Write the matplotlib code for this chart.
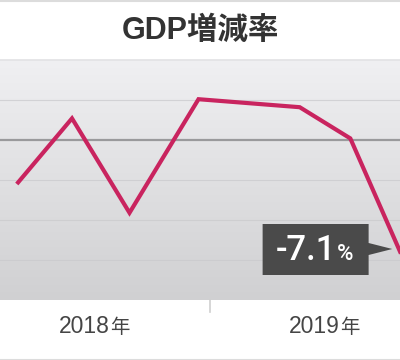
import matplotlib
matplotlib.use('Agg')
import matplotlib.pyplot as plt
import numpy as np
from matplotlib import transforms
from matplotlib.patches import Polygon
from matplotlib.lines import Line2D
from matplotlib.colors import LinearSegmentedColormap

# ---- data ----
title = "GDP増減率"
periods = [2018.16, 2018.40, 2018.65, 2018.95, 2019.39, 2019.61, 2019.83]
growth = [-2.75, 1.35, -4.55, 2.55, 2.05, 0.1, -7.1]
year_ticks = [2018.5, 2019.5]
year_labels = ["2018", "2019"]
year_suffix = "年"
year_boundary = [2019.0]
grid_levels = [2.5, -2.5, -5.0, -7.5]
zero_level = 0.0
last_value_text = "-7.1"
last_unit_text = "%"

FONT = ['Liberation Sans', 'Noto Sans CJK JP', 'DejaVu Sans']
plt.rcParams['font.family'] = FONT

W, H = 400, 360
fig = plt.figure(figsize=(W / 100, H / 100), dpi=100)
fig.patch.set_facecolor('white')

ax = fig.add_axes([0, 60 / H, 1, 240 / H])
ax.axis('off')

# gradient background
cmap = LinearSegmentedColormap.from_list('bg', ['#d0d0d2', '#f0f0f2'])
grad = np.linspace(0, 1, 256).reshape(-1, 1)
ax.imshow(grad, extent=[0, 1, 0, 1], transform=ax.transAxes, aspect='auto',
          cmap=cmap, origin='lower', zorder=0)

ax.set_xlim(2018.087, 2019.826)
ax.set_ylim(-10, 5)

for g in grid_levels:
    ax.axhline(g, color='#c9c9cc', lw=0.8, alpha=0.7, zorder=1)
ax.axhline(zero_level, color='#9a9a9c', lw=1.6, zorder=2)

ax.plot(periods, growth, color='#c9245f', lw=3.0, solid_joinstyle='miter',
        solid_capstyle='butt', zorder=3, clip_on=True)

# frame lines in figure
def hline(ypx, color, lw=1.2):
    fig.add_artist(Line2D([0, 1], [1 - ypx / H, 1 - ypx / H], transform=fig.transFigure,
                          color=color, lw=lw))
hline(0.5, '#dcdcdc', 1.5)
hline(59.5, '#e2e2e4', 1.2)
hline(359.5, '#dcdcdc', 1.5)

# year boundary tick
for b in year_boundary:
    bx = ax.transData.transform((b, 0))[0] / W
    fig.add_artist(Line2D([bx, bx], [60 / H, 48 / H], transform=fig.transFigure,
                          color='#cfcfcf', lw=1.2))

# year labels
for t, lab in zip(year_ticks, year_labels):
    ax.annotate(lab, xy=(t, 0), xycoords=('data', 'axes fraction'),
                xytext=(15, -33), textcoords='offset pixels', ha='right', va='baseline',
                fontsize=16.5, color='#454545', annotation_clip=False)
    ax.annotate(year_suffix, xy=(t, 0), xycoords=('data', 'axes fraction'),
                xytext=(15, -33), textcoords='offset pixels', ha='left', va='baseline',
                fontsize=14, color='#454545', annotation_clip=False)

# title
fig.text(0.5, 1 - 31 / H, title, ha='center', va='center', fontsize=22,
         fontweight='bold', color='#333333')

# last value callout
px0, py0 = ax.transData.transform((periods[-1], growth[-1]))
tr = transforms.Affine2D().translate(px0, py0)
verts = [(-138.3, 29.6), (-32.3, 29.6), (-32.3, 10.6), (-8.6, 4.6), (-32.3, -1.4),
         (-32.3, -21.4), (-138.3, -21.4)]
poly = Polygon(verts, closed=True, transform=tr, facecolor='#4a4a4a',
               edgecolor='none', zorder=5, clip_on=False)
ax.add_artist(poly)
ax.annotate(last_value_text, xy=(periods[-1], growth[-1]), xytext=(-125, -6.4),
            textcoords='offset pixels', ha='left', va='baseline', fontsize=25,
            family=['Roboto', 'DejaVu Sans'], fontweight='medium',
            color='white', annotation_clip=False, zorder=6)
ax.annotate(last_unit_text, xy=(periods[-1], growth[-1]), xytext=(-64, -6.4),
            textcoords='offset pixels', ha='left', va='baseline', fontsize=16,
            family=['Roboto', 'DejaVu Sans'], fontweight='medium',
            color='white', annotation_clip=False, zorder=6)

fig.savefig('out.png', dpi=100)
